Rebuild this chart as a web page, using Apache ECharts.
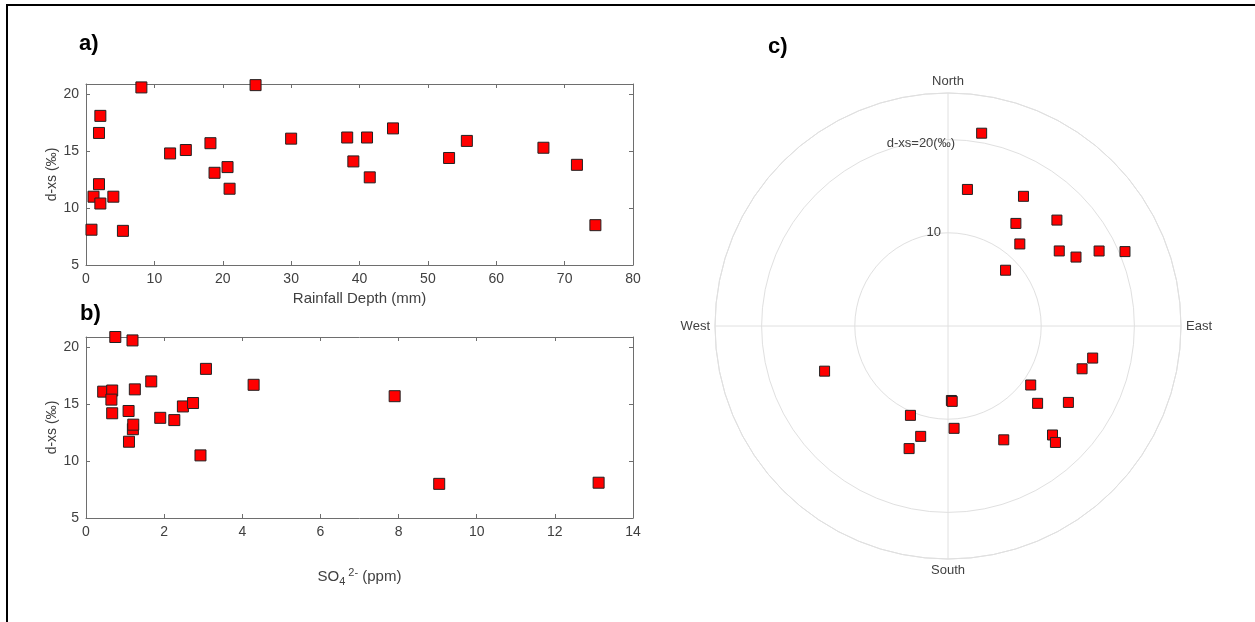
<!DOCTYPE html>
<html>
<head>
<meta charset="utf-8">
<style>
  html, body { margin: 0; padding: 0; background: #fff; }
  #chart { width: 1255px; height: 622px; }
</style>
<script src="https://cdn.jsdelivr.net/npm/echarts@6/dist/echarts.min.js"></script>
</head>
<body>
<div id="chart"></div>
<script>
// a) d-excess against rainfall depth
const rainDepth = [0.8, 1.1, 1.9, 1.9, 2.1, 2.1, 4.0, 5.4, 8.1, 12.3, 14.6, 18.2, 18.8, 20.7, 21.0,
                   24.8, 30.0, 38.2, 39.1, 41.1, 41.5, 44.9, 53.1, 55.7, 66.9, 71.8, 74.5];
const dxsRain   = [8.1, 11.0, 12.1, 16.6, 18.1, 10.4, 11.0, 8.0, 20.6, 14.8, 15.1, 15.7, 13.1, 13.6, 11.7,
                   20.8, 16.1, 16.2, 14.1, 16.2, 12.7, 17.0, 14.4, 15.9, 15.3, 13.8, 8.5];

// b) d-excess against sulphate concentration
const so4     = [0.75, 1.19, 0.44, 0.67, 0.65, 0.67, 1.09, 1.25, 1.20, 1.21, 1.10, 1.67, 1.90, 2.26, 2.48,
                 2.74, 3.07, 2.93, 4.29, 7.90, 9.04, 13.12];
const dxsSo4  = [20.9, 20.6, 16.1, 16.2, 15.4, 14.2, 14.4, 16.3, 12.8, 13.2, 11.7, 17.0, 13.8, 13.6, 14.8,
                 15.1, 18.1, 10.5, 16.7, 15.7, 8.0, 8.1];

// c) d-excess by direction (degrees clockwise from north)
const windDir = [9.9, 8.1, 30.2, 33.5, 45.8, 41.2, 45.9, 56.0, 61.7, 63.6, 67.2, 249.9, 177.4, 176.8,
                 202.8, 176.6, 193.9, 197.6, 153.9, 125.5, 130.8, 122.4, 107.7, 102.5, 136.2, 137.3];
const dxsWind = [21.0, 14.8, 16.1, 13.2, 16.3, 11.7, 8.6, 14.4, 15.6, 18.1, 20.6, 14.1, 8.0, 8.1,
                 10.4, 11.0, 12.2, 13.8, 13.6, 10.9, 12.7, 15.3, 15.1, 15.9, 16.2, 17.0];

const compassTicks = [0, 90, 180, 270];
const compassNames = ['North', 'East', 'South', 'West'];

const FONT = '"Liberation Sans", Arial, sans-serif';
const AXIS_COLOR = '#6e6e6e';
const TEXT_COLOR = '#404040';
const GRID_COLOR = '#e0e0e0';

const markerStyle = { color: '#ff0000', borderColor: '#222', borderWidth: 1, opacity: 1 };

function boxAxis(gridIndex, position, min, max, interval, showLabel, extra) {
  return Object.assign({
    type: 'value', gridIndex, position, min, max, interval,
    axisLine: { show: true, onZero: false, lineStyle: { color: AXIS_COLOR, width: 1 } },
    axisTick: { show: true, inside: true, length: 4, lineStyle: { color: AXIS_COLOR } },
    axisLabel: { show: showLabel, color: TEXT_COLOR, fontSize: 14, fontFamily: FONT, margin: 7, showMaxLabel: showLabel ? undefined : false },
    splitLine: { show: false }
  }, extra || {});
}

const yName = {
  name: 'd-xs (‰)', nameLocation: 'middle', nameGap: 24,
  nameTextStyle: { color: TEXT_COLOR, fontSize: 14, fontFamily: FONT }
};

const chart = echarts.init(document.getElementById('chart'), null, { renderer: 'canvas' });

chart.setOption({
  animation: false,
  backgroundColor: '#fff',
  textStyle: { fontFamily: FONT },
  graphic: [
    { type: 'polyline', shape: { points: [[7, 622], [7, 5], [1255, 5]] }, style: { stroke: '#000', lineWidth: 2, fill: null } },
    { type: 'text', left: 79, top: 33, style: { text: 'a)', font: 'bold 22px ' + FONT, fill: '#000' } },
    { type: 'text', left: 80, top: 303, style: { text: 'b)', font: 'bold 22px ' + FONT, fill: '#000' } },
    { type: 'text', left: 768, top: 36, style: { text: 'c)', font: 'bold 22px ' + FONT, fill: '#000' } }
  ],
  grid: [
    { left: 86, top: 84, width: 547, height: 181 },
    { left: 86, top: 337, width: 547, height: 181 }
  ],
  xAxis: [
    boxAxis(0, 'bottom', 0, 80, 10, true, {
      name: 'Rainfall Depth (mm)', nameLocation: 'middle', nameGap: 26,
      nameTextStyle: { color: TEXT_COLOR, fontSize: 15, fontFamily: FONT }
    }),
    boxAxis(0, 'top', 0, 80, 10, false),
    boxAxis(1, 'bottom', 0, 14, 2, true, {
      name: '{t|SO}{sub|4}{sup|2-}{t| (ppm)}', nameLocation: 'middle', nameGap: 48,
      nameTextStyle: {
        color: TEXT_COLOR, fontSize: 15, fontFamily: FONT,
        rich: {
          t: { color: TEXT_COLOR, fontSize: 15, fontFamily: FONT },
          sub: { color: TEXT_COLOR, fontSize: 11, fontFamily: FONT, padding: [10, 0, 0, 0] },
          sup: { color: TEXT_COLOR, fontSize: 11, fontFamily: FONT, padding: [0, 0, 8, 3] }
        }
      }
    }),
    boxAxis(1, 'top', 0, 14, 2, false)
  ],
  yAxis: [
    boxAxis(0, 'left', 5, 20.9, 5, true, Object.assign({}, yName)),
    boxAxis(0, 'right', 5, 20.9, 5, false),
    boxAxis(1, 'left', 5, 20.9, 5, true, Object.assign({}, yName)),
    boxAxis(1, 'right', 5, 20.9, 5, false)
  ],
  polar: { center: [948, 326], radius: 233 },
  angleAxis: {
    type: 'value', min: 0, max: 360, interval: 90, startAngle: 90, clockwise: true,
    axisLine: { show: true, lineStyle: { color: GRID_COLOR, width: 1 } },
    axisTick: { show: false },
    splitLine: { show: true, lineStyle: { color: GRID_COLOR, width: 1 } },
    axisLabel: {
      color: TEXT_COLOR, fontSize: 13, fontFamily: FONT, margin: 5,
      formatter: v => { const i = compassTicks.indexOf(v); return i >= 0 ? compassNames[i] : ''; }
    }
  },
  radiusAxis: {
    type: 'value', min: 0, max: 25, interval: 10,
    axisLine: { show: false },
    axisTick: { show: false },
    splitLine: { show: true, lineStyle: { color: GRID_COLOR, width: 1 } },
    axisLabel: {
      color: TEXT_COLOR, fontSize: 13, fontFamily: FONT, margin: -7, align: 'right',
      formatter: v => v === 10 ? '{a|10}' : (v === 20 ? '{b|d-xs=20(‰)}' : ''),
      rich: {
        a: { color: TEXT_COLOR, fontSize: 13, fontFamily: FONT, padding: [0, 14, 0, 0] },
        b: { color: TEXT_COLOR, fontSize: 13, fontFamily: FONT, padding: [8, 0, 0, 0] }
      }
    }
  },
  series: [
    {
      type: 'scatter', xAxisIndex: 0, yAxisIndex: 0, symbol: 'rect', symbolSize: 11,
      itemStyle: markerStyle,
      data: rainDepth.map((x, i) => [x, dxsRain[i]])
    },
    {
      type: 'scatter', xAxisIndex: 2, yAxisIndex: 2, symbol: 'rect', symbolSize: 11,
      itemStyle: markerStyle,
      data: so4.map((x, i) => [x, dxsSo4[i]])
    },
    {
      type: 'scatter', coordinateSystem: 'polar', symbol: 'rect', symbolSize: 10,
      itemStyle: markerStyle,
      data: dxsWind.map((r, i) => [r, windDir[i]])
    }
  ]
});
</script>
</body>
</html>
